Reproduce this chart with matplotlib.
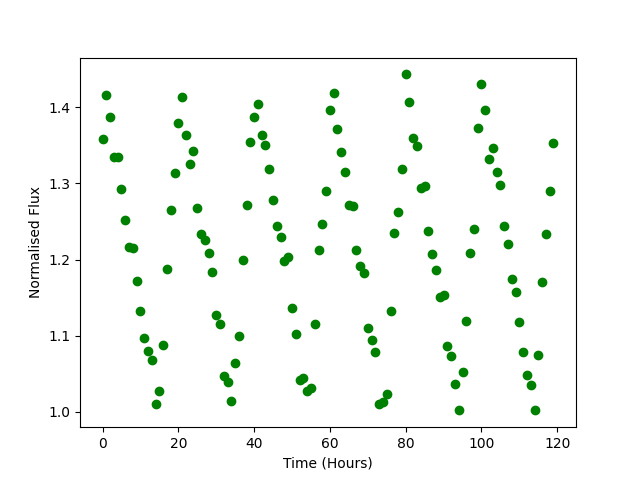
import numpy as np
import matplotlib
matplotlib.use("Agg")
import matplotlib.pyplot as plt

# time in hours, one reading per hour
time = np.arange(0, 120)

# normalised flux
flux = [
    1.358, 1.416, 1.387, 1.334, 1.334, 1.292, 1.252, 1.216, 1.215, 1.172,
    1.132, 1.097, 1.080, 1.068, 1.010, 1.027, 1.088, 1.187, 1.265, 1.313,
    1.379, 1.413, 1.363, 1.326, 1.343, 1.267, 1.233, 1.226, 1.208, 1.184,
    1.127, 1.115, 1.047, 1.039, 1.014, 1.064, 1.099, 1.200, 1.271, 1.354,
    1.387, 1.404, 1.363, 1.350, 1.319, 1.278, 1.244, 1.229, 1.198, 1.203,
    1.137, 1.102, 1.042, 1.045, 1.028, 1.031, 1.115, 1.213, 1.247, 1.290,
    1.396, 1.419, 1.371, 1.341, 1.315, 1.271, 1.270, 1.213, 1.191, 1.182,
    1.110, 1.094, 1.079, 1.010, 1.013, 1.024, 1.132, 1.235, 1.263, 1.319,
    1.443, 1.407, 1.360, 1.349, 1.294, 1.297, 1.238, 1.207, 1.186, 1.151,
    1.153, 1.087, 1.073, 1.036, 1.002, 1.053, 1.119, 1.208, 1.240, 1.373,
    1.431, 1.396, 1.332, 1.347, 1.315, 1.298, 1.244, 1.221, 1.175, 1.157,
    1.118, 1.079, 1.048, 1.035, 1.002, 1.075, 1.170, 1.233, 1.290, 1.353,
]

plt.figure(figsize=(6.4, 4.8), dpi=100)
plt.plot(time, flux, 'go')
plt.xlabel('Time (Hours)')
plt.ylabel('Normalised Flux')
plt.savefig('out.png')
